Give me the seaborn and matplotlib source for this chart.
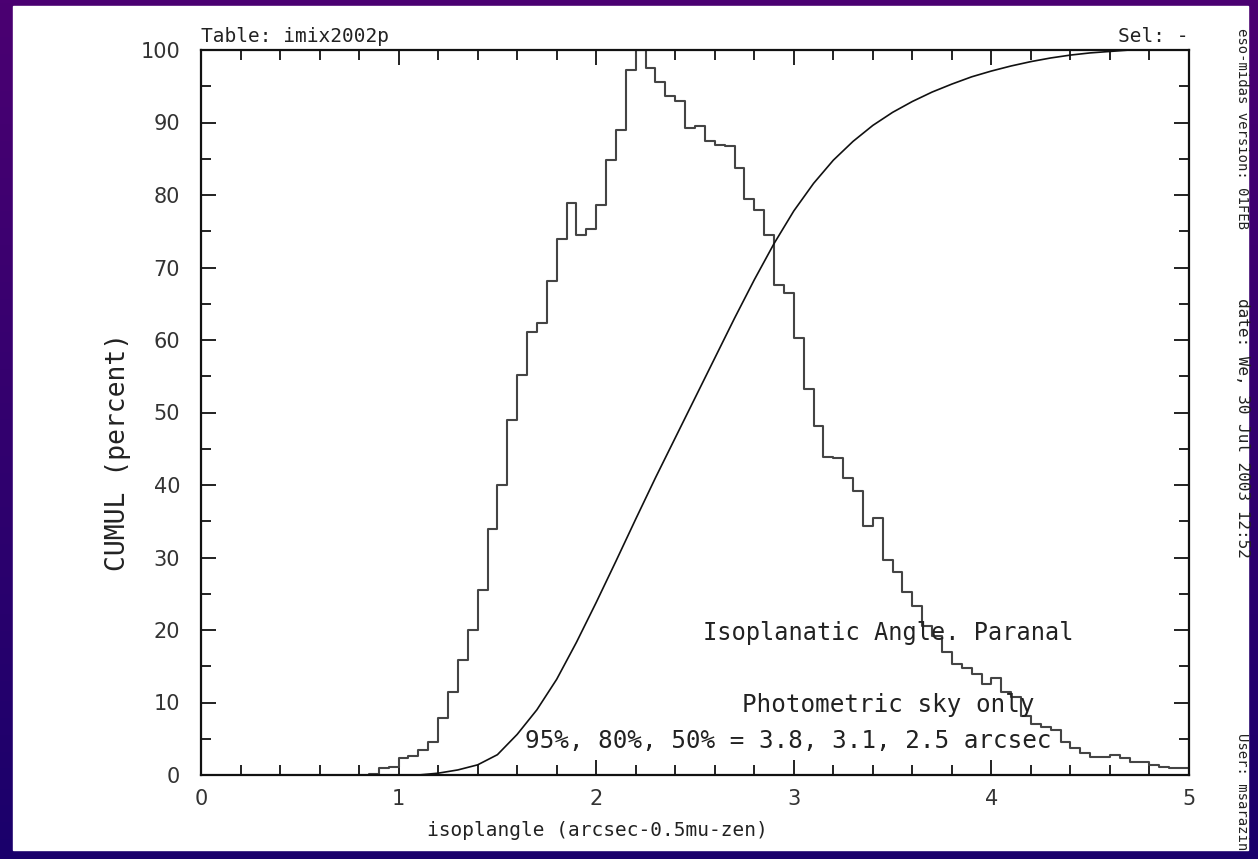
import numpy as np
import pandas as pd
import matplotlib
matplotlib.use("Agg")
import matplotlib.pyplot as plt
import seaborn as sns
from matplotlib.colors import LinearSegmentedColormap

# ---------------- data ----------------
bin_start = 0.85
bin_width = 0.05
hist_values = [0.2, 1.0, 1.1, 2.4, 2.6, 3.5, 4.6, 7.8, 11.5, 15.8,
               20.0, 25.5, 34.0, 40.0, 49.0, 55.2, 61.1, 62.4, 68.2, 74.0,
               78.9, 74.5, 75.3, 78.6, 84.8, 89.0, 97.2, 100.0, 97.5, 95.6,
               93.6, 92.9, 89.2, 89.5, 87.4, 86.9, 86.7, 83.7, 79.5, 78.0,
               74.5, 67.6, 66.5, 60.3, 53.2, 48.1, 43.8, 43.7, 41.0, 39.2,
               34.3, 35.4, 29.6, 28.0, 25.3, 23.3, 20.5, 19.2, 16.9, 15.3,
               14.7, 14.0, 12.5, 13.4, 11.4, 10.8, 8.1, 7.0, 6.6, 6.2,
               4.6, 3.7, 3.0, 2.5, 2.5, 2.8, 2.3, 1.8, 1.8, 1.4,
               1.15, 0.9, 1.0]

cum_x = [1.05, 1.1, 1.2, 1.3, 1.4, 1.5, 1.6, 1.7, 1.8, 1.9, 2.0, 2.1, 2.2,
         2.3, 2.4, 2.5, 2.6, 2.7, 2.8, 2.9, 3.0, 3.1, 3.2, 3.3, 3.4, 3.5,
         3.6, 3.7, 3.8, 3.9, 4.0, 4.1, 4.2, 4.3, 4.4, 4.5, 4.6, 4.7, 4.76]
cum_y = [0.0, 0.0, 0.25, 0.7, 1.4, 2.8, 5.6, 9.0, 13.2, 18.3, 23.8, 29.5,
         35.3, 41.0, 46.5, 52.0, 57.5, 63.0, 68.3, 73.3, 77.8, 81.6, 84.8,
         87.4, 89.6, 91.4, 92.9, 94.2, 95.3, 96.3, 97.1, 97.8, 98.4, 98.9,
         99.3, 99.6, 99.8, 100.0, 100.0]

x_ticks = [0, 1, 2, 3, 4, 5]
y_ticks = [0, 10, 20, 30, 40, 50, 60, 70, 80, 90, 100]

# ---------------- style ----------------
sns.set_style("ticks")
mono = ["DejaVu Sans Mono"]
plt.rcParams["font.family"] = ["DejaVu Sans"]

W, H = 1258, 859
fig = plt.figure(figsize=(W / 100, H / 100), dpi=100)

# background gradient (purple to blue)
bg = fig.add_axes([0, 0, 1, 1])
grad = np.linspace(0, 1, 256).reshape(-1, 1)
cmap = LinearSegmentedColormap.from_list("bg", ["#4b0072", "#1a006b"])
bg.imshow(grad, aspect="auto", cmap=cmap, extent=[0, 1, 0, 1], origin="upper")
bg.set_xlim(0, 1)
bg.set_ylim(0, 1)
bg.set_axis_off()
bg.add_patch(plt.Rectangle((13 / W, 1 - 850 / H), (1248 - 13) / W, (850 - 6) / H,
                           transform=bg.transAxes, color="white", zorder=2))

ax = fig.add_axes([201 / W, 1 - 775 / H, (1189 - 201) / W, (775 - 50) / H])
ax.set_facecolor("white")

n_bins = len(hist_values)
centers = bin_start + bin_width * (np.arange(n_bins) + 0.5)
df = pd.DataFrame({"x": centers, "w": hist_values})
sns.histplot(data=df, x="x", weights="w", binwidth=bin_width,
             binrange=(bin_start, bin_start + bin_width * n_bins),
             element="step", fill=False, color="#444444", linewidth=1.5, ax=ax)

cdf = pd.DataFrame({"x": cum_x, "y": cum_y})
sns.lineplot(data=cdf, x="x", y="y", color="#111111", linewidth=1.2, ax=ax)

ax.set_xlim(0, 5)
ax.set_ylim(0, 100)
ax.set_xticks(x_ticks)
ax.set_yticks(y_ticks)
ax.set_xticks(np.arange(0, 5.01, 0.2), minor=True)
ax.set_yticks(np.arange(0, 100.1, 5), minor=True)
ax.tick_params(which="both", direction="in", top=True, right=True,
               color="#111111", width=1.3)
ax.tick_params(which="major", length=11, labelsize=15, labelcolor="#333333")
ax.tick_params(axis="x", which="major", pad=10)
ax.tick_params(axis="y", which="major", pad=15)
ax.tick_params(which="minor", length=7)
for s in ax.spines.values():
    s.set_linewidth(1.6)
    s.set_color("#111111")
ax.set_xlabel("")
ax.set_ylabel("")

txt = "#222222"
fig.text(597 / W, 1 - 830 / H, "isoplangle (arcsec-0.5mu-zen)", family=mono,
         fontsize=14, color=txt, ha="center", va="center")
fig.text(118 / W, 1 - 452 / H, "CUMUL (percent)", family=mono, fontsize=19,
         color=txt, ha="center", va="center", rotation=90)
ax.text(0.0, 1.005, "Table: imix2002p", transform=ax.transAxes, family=mono,
        fontsize=14, color=txt, ha="left", va="bottom")
ax.text(1.0, 1.005, "Sel: -", transform=ax.transAxes, family=mono,
        fontsize=14, color=txt, ha="right", va="bottom")

ax.text(2.54, 19.6, "Isoplanatic Angle. Paranal", family=mono, fontsize=17,
        color=txt, ha="left", va="center")
ax.text(2.74, 9.7, "Photometric sky only", family=mono, fontsize=17.5,
        color=txt, ha="left", va="center")
ax.text(1.64, 4.7, "95%, 80%, 50% = 3.8, 3.1, 2.5 arcsec", family=mono,
        fontsize=17.5, color=txt, ha="left", va="center")

rx = 1242 / W
fig.text(rx, 1 - 28 / H, "eso-midas version: 01FEB", family=mono, fontsize=10,
         color=txt, ha="center", va="top", rotation=270)
fig.text(rx, 1 - 298 / H, "date: We, 30 Jul 2003 12:52", family=mono, fontsize=11.5,
         color=txt, ha="center", va="top", rotation=270)
fig.text(rx, 1 - 733 / H, "User: msarazin", family=mono, fontsize=10,
         color=txt, ha="center", va="top", rotation=270)

fig.savefig("out.png", dpi=100)
